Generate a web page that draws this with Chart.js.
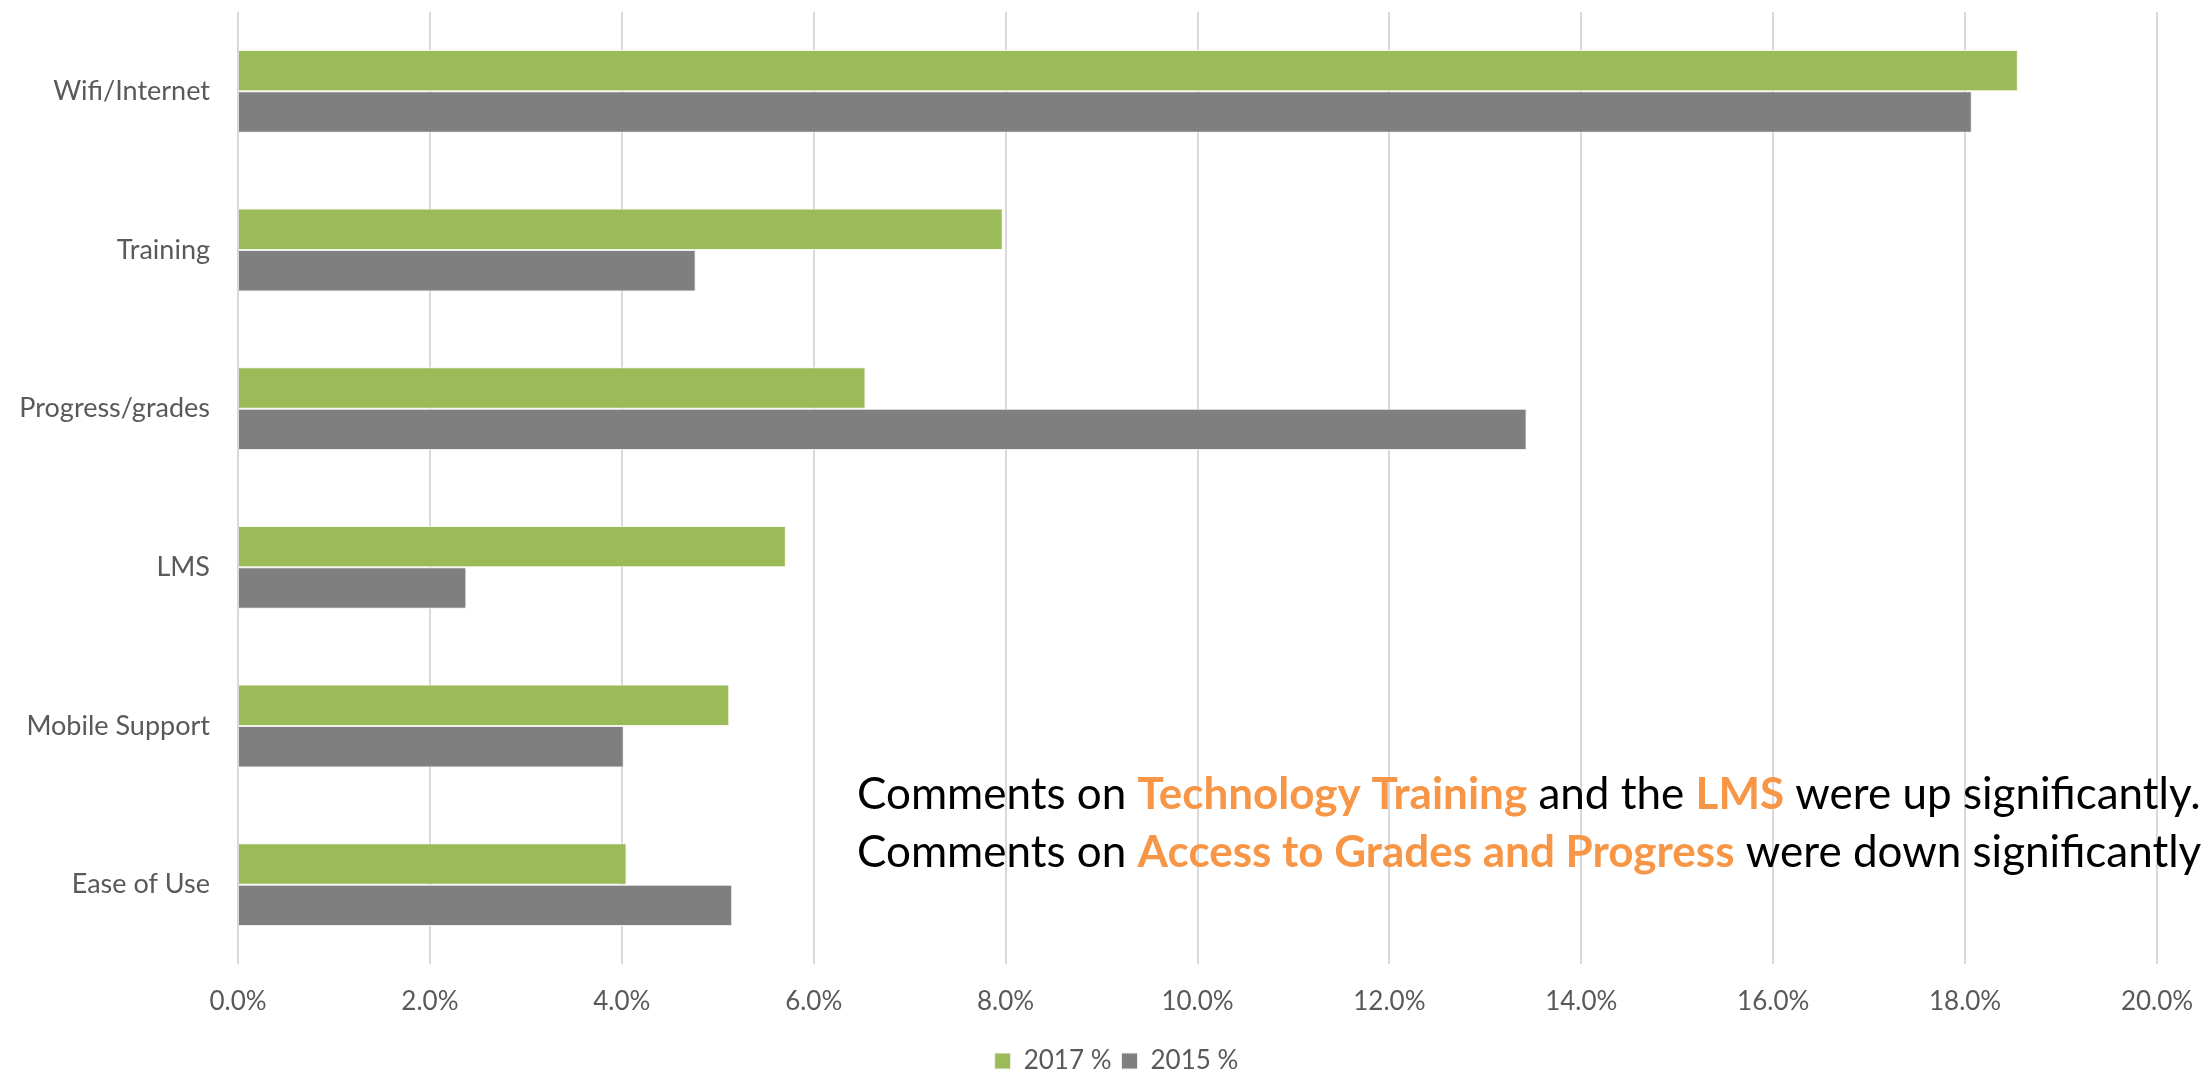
<!DOCTYPE html>
<html>
<head>
<meta charset="utf-8">
<script src="https://cdn.jsdelivr.net/npm/chart.js@4"></script>
<style>
  html, body { margin: 0; padding: 0; background: #ffffff; }
  #wrap { width: 2201px; height: 1074px; }
</style>
</head>
<body>
<div id="wrap"><canvas id="c" width="2201" height="1074"></canvas></div>
<script>
const categories = ["Wifi/Internet", "Training", "Progress/grades", "LMS", "Mobile Support", "Ease of Use"];
const series2017 = [18.55, 7.97, 6.54, 5.71, 5.12, 4.05];
const series2015 = [18.07, 4.77, 13.43, 2.38, 4.02, 5.15];
const seriesNames = ["2017 %", "2015 %"];
const xTicks = [0, 2, 4, 6, 8, 10, 12, 14, 16, 18, 20];

const annotationLines = [
  [["Comments on ", false], ["Technology Training", true], [" and the ", false], ["LMS", true], [" were up significantly.", false]],
  [["Comments on ", false], ["Access to Grades and Progress", true], [" were down significantly.", false]]
];

const annotationPlugin = {
  id: 'annot',
  afterLayout(chart) {
    if (chart.legend) { chart.legend.left += 38; chart.legend.right += 38; }
  },
  afterDatasetsDraw(chart) {
    const ctx = chart.ctx;
    ctx.save();
    const ys = [795, 853];
    annotationLines.forEach((line, i) => {
      let x = 857;
      line.forEach(([txt, hl]) => {
        ctx.font = (hl ? 'bold ' : '') + '44px Lato';
        ctx.fillStyle = hl ? '#F79646' : '#000000';
        ctx.textBaseline = 'middle';
        ctx.fillText(txt, x, ys[i]);
        x += ctx.measureText(txt).width;
      });
    });
    ctx.restore();
  }
};

new Chart(document.getElementById('c'), {
  type: 'bar',
  data: {
    labels: categories,
    datasets: [
      { label: seriesNames[0], data: series2017, backgroundColor: '#9BBB59', borderColor: '#f4f7ee', borderWidth: 1, categoryPercentage: 0.522, barPercentage: 1.0 },
      { label: seriesNames[1], data: series2015, backgroundColor: '#7F7F7F', borderColor: '#eeeeee', borderWidth: 1, categoryPercentage: 0.522, barPercentage: 1.0 }
    ]
  },
  options: {
    indexAxis: 'y',
    responsive: false,
    animation: false,
    layout: { padding: { left: 0, right: 44, top: 12, bottom: -10 } },
    plugins: {
      legend: {
        position: 'bottom',
        labels: {
          boxWidth: 16, boxHeight: 16, padding: 10,
          color: '#595959',
          font: { family: 'Lato', size: 26 }
        }
      },
      tooltip: { enabled: false }
    },
    scales: {
      x: {
        min: 0, max: 20,
        afterBuildTicks(scale) { scale.ticks = xTicks.map(v => ({ value: v })); },
        afterFit(scale) { scale.height = 74; scale.paddingLeft = 0; scale.paddingRight = 0; },
        ticks: {
          color: '#595959',
          font: { family: 'Lato', size: 26 },
          padding: 22,
          callback: (v) => Number(v).toFixed(1) + '%'
        },
        grid: { color: '#D9D9D9', lineWidth: 2, drawTicks: false },
        border: { display: false }
      },
      y: {
        afterFit(scale) { scale.width = 238; scale.paddingTop = 0; scale.paddingBottom = 0; },
        ticks: {
          color: '#595959',
          font: { family: 'Lato', size: 27 },
          padding: 28
        },
        grid: { display: false, drawTicks: false },
        border: { display: false }
      }
    }
  },
  plugins: [annotationPlugin]
});
</script>
</body>
</html>
